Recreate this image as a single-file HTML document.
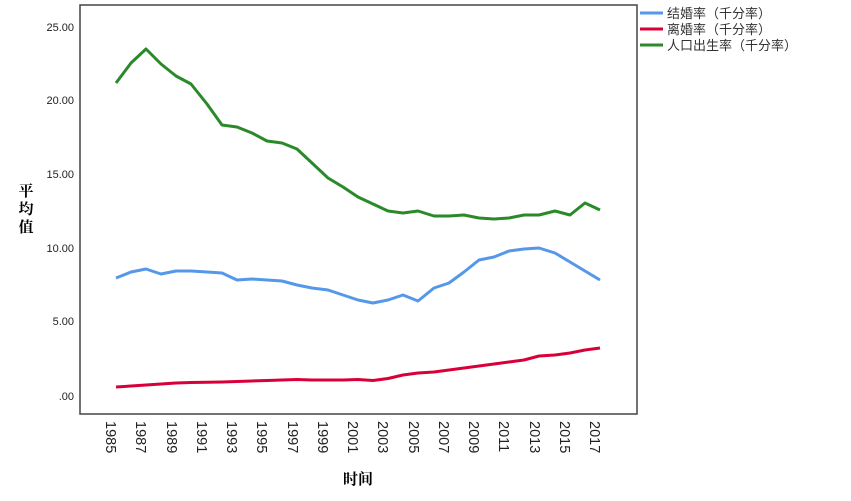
<!DOCTYPE html>
<html><head><meta charset="utf-8"><style>
html,body{margin:0;padding:0;background:#fff;}
svg{display:block;font-family:"Liberation Sans","Noto Sans CJK SC",sans-serif;}
</style></head><body>
<svg width="851" height="501" viewBox="0 0 851 501" xmlns="http://www.w3.org/2000/svg">
<rect x="80" y="5" width="557" height="409" fill="none" stroke="#444" stroke-width="1.5"/>
<g font-size="11" fill="#222" text-anchor="end">
<text x="74" y="31">25.00</text>
<text x="74" y="104">20.00</text>
<text x="74" y="178">15.00</text>
<text x="74" y="252">10.00</text>
<text x="74" y="325">5.00</text>
<text x="74" y="400">.00</text>
</g>
<g font-size="14.5" fill="#222">
<text transform="translate(106,421) rotate(90)">1985</text>
<text transform="translate(136,421) rotate(90)">1987</text>
<text transform="translate(167,421) rotate(90)">1989</text>
<text transform="translate(197,421) rotate(90)">1991</text>
<text transform="translate(227,421) rotate(90)">1993</text>
<text transform="translate(257,421) rotate(90)">1995</text>
<text transform="translate(288,421) rotate(90)">1997</text>
<text transform="translate(318,421) rotate(90)">1999</text>
<text transform="translate(348,421) rotate(90)">2001</text>
<text transform="translate(378,421) rotate(90)">2003</text>
<text transform="translate(409,421) rotate(90)">2005</text>
<text transform="translate(439,421) rotate(90)">2007</text>
<text transform="translate(469,421) rotate(90)">2009</text>
<text transform="translate(499,421) rotate(90)">2011</text>
<text transform="translate(530,421) rotate(90)">2013</text>
<text transform="translate(560,421) rotate(90)">2015</text>
<text transform="translate(590,421) rotate(90)">2017</text>
</g>
<text x="358" y="484" font-size="15" font-weight="bold" font-family="'Noto Serif CJK SC',serif" text-anchor="middle">时间</text>
<g font-size="15" font-weight="bold" font-family="'Noto Serif CJK SC',serif" text-anchor="middle">
<text x="26" y="196">平</text><text x="26" y="214">均</text><text x="26" y="232">值</text>
</g>
<g fill="none" stroke-width="3" stroke-linejoin="round">
<polyline stroke="#2a8a2a" points="116,83 131,63 146,49 161,64 176,76 191,84 207,104 222,125 237,127 252,133 267,141 282,143 297,149 312,163 328,178 343,187 358,197 373,204 388,211 403,213 418,211 434,216 449,216 464,215 479,218 494,219 509,218 524,215 539,215 555,211 570,215 585,203 600,210"/>
<polyline stroke="#5597e8" points="116,278 131,272 146,269 161,274 176,271 191,271 207,272 222,273 237,280 252,279 267,280 282,281 297,285 312,288 328,290 343,295 358,300 373,303 388,300 403,295 418,301 434,288 449,283 464,272 479,260 494,257 509,251 524,249 539,248 555,253 570,262 585,271 600,280"/>
<polyline stroke="#d9003a" points="116,387 131,386 146,385 161,384 176,383 191,382.5 207,382.3 222,382 237,381.5 252,381 267,380.5 282,380 297,379.5 312,380 328,380 343,380 358,379.5 373,380.5 388,378.5 403,375 418,373 434,372 449,370 464,368 479,366 494,364 509,362 524,360 539,356 555,355 570,353 585,350 600,348"/>
</g>
<g stroke-width="3">
<line x1="640" y1="13" x2="663" y2="13" stroke="#5597e8"/>
<line x1="640" y1="29" x2="663" y2="29" stroke="#d9003a"/>
<line x1="640" y1="45" x2="663" y2="45" stroke="#2a8a2a"/>
</g>
<g font-size="13" fill="#333">
<text x="667" y="18">结婚率（千分率）</text>
<text x="667" y="34">离婚率（千分率）</text>
<text x="667" y="50">人口出生率（千分率）</text>
</g>
</svg>
</body></html>
